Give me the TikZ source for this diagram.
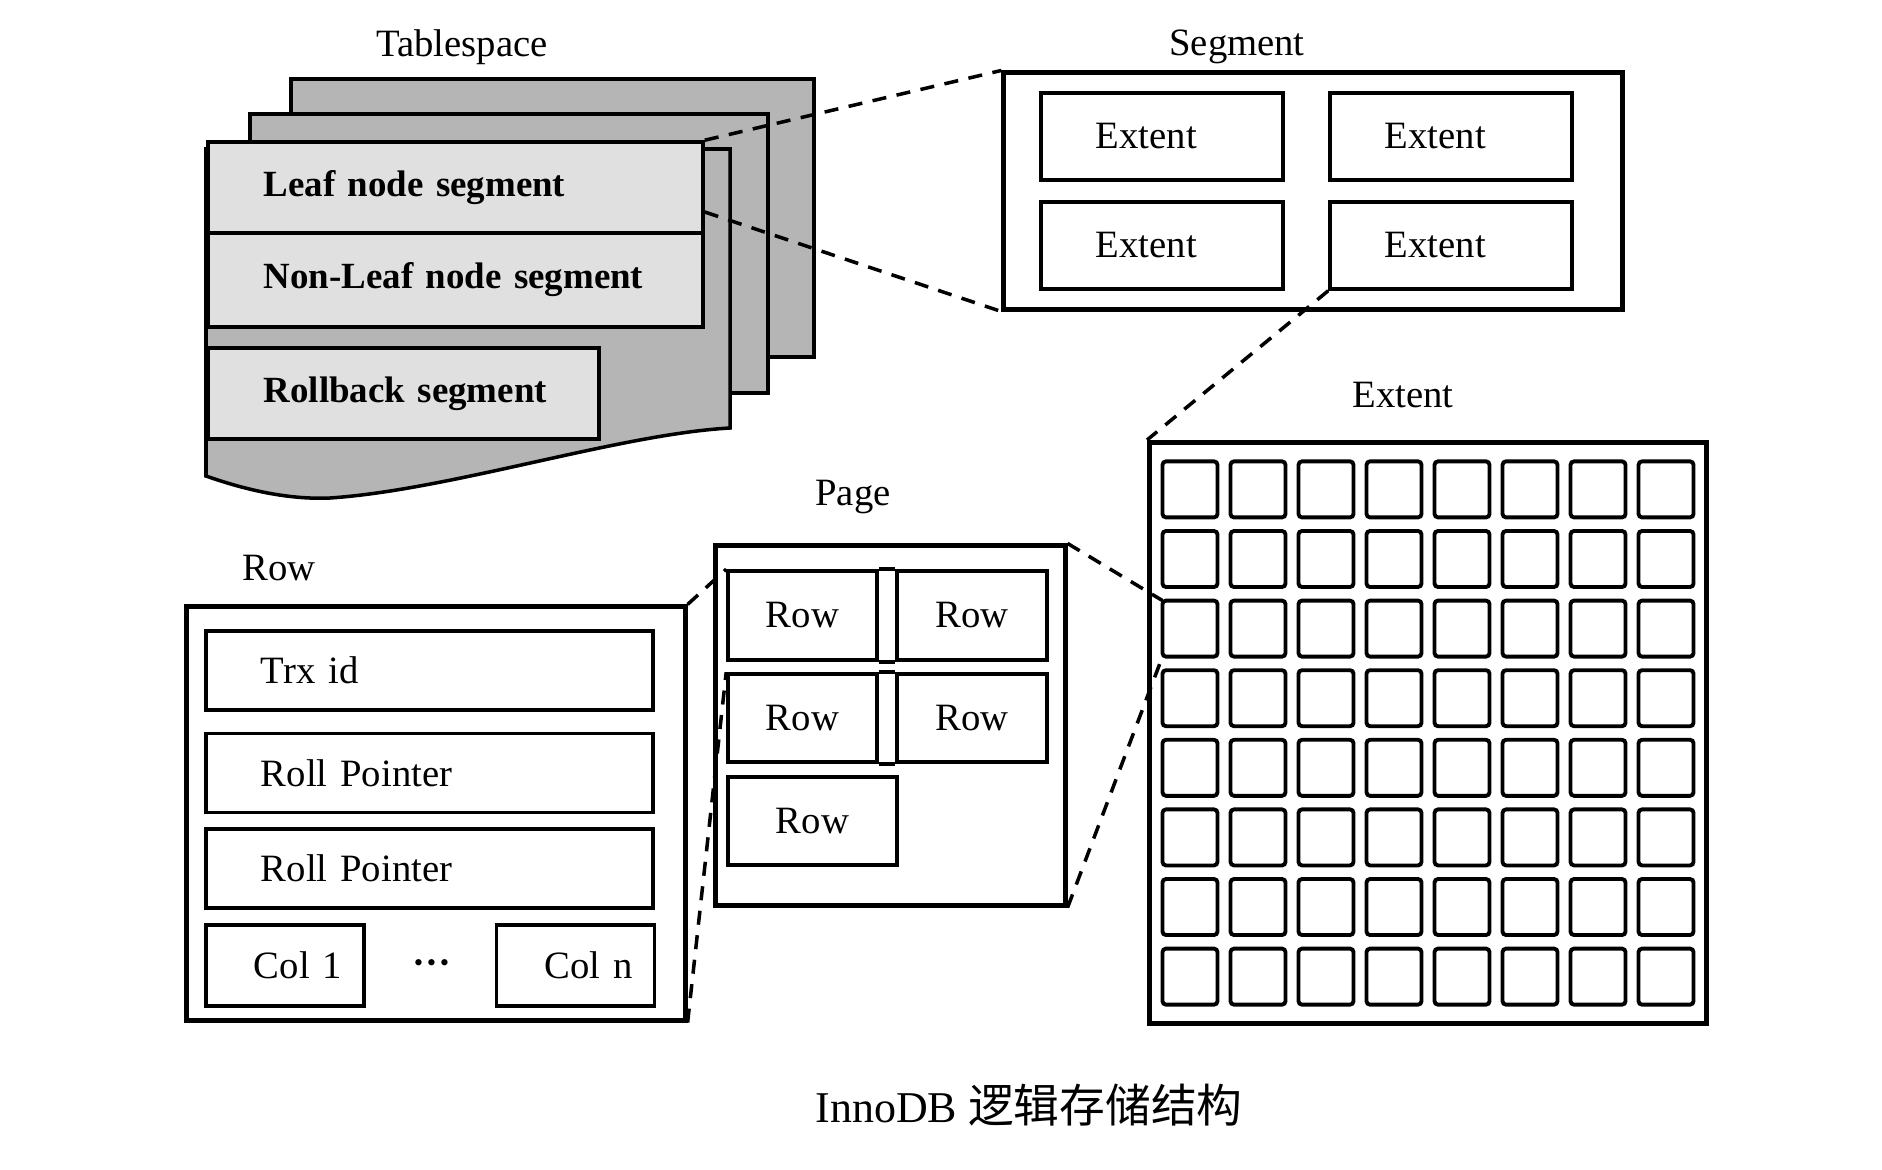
\documentclass[tikz,border=0pt]{standalone}
\usepackage{fontspec}
\setmainfont{Liberation Serif}
\newfontfamily\cjk{Noto Sans CJK SC}
\usetikzlibrary{matrix}
\definecolor{sheetgray}{gray}{0.71}
\definecolor{papergray}{gray}{0.88}

\begin{document}
\begin{tikzpicture}[x=0.01cm, y=-0.01cm,
            every node/.style={font=\fontsize{11}{13}\selectfont},
            sheet/.style={draw, line width=1pt, fill=sheetgray},
            seg/.style={draw, line width=1pt, fill=papergray, anchor=west, align=left,
                inner xsep=0.56cm, inner ysep=0pt, font=\fontsize{10.5}{12}\selectfont\bfseries},
            frame/.style={draw, line width=1.4pt, inner sep=0pt},
            box/.style={draw, line width=1pt, inner sep=0pt},
            extbox/.style={box, align=left, inner xsep=0.55cm, text width=1.32cm, minimum height=0.87cm},
            field/.style={box, align=left, inner xsep=0.55cm, text width=3.37cm, minimum height=0.79cm},
            col/.style={box, align=right, inner xsep=0.22cm, text width=1.14cm, minimum height=0.81cm},
            cell/.style={draw, line width=1.1pt, rounded corners=1pt, inner sep=0pt, outer sep=0pt,
                minimum width=0.55cm, minimum height=0.56cm},
            zoom/.style={line width=1pt, dash pattern=on 4pt off 3pt}]
    \useasboundingbox (0,0) rectangle (1882,1170);

    % tablespace
    \draw[sheet] (291,79) rectangle (814,357);
    \draw[sheet] (250,114) rectangle (768,393);
    \draw[sheet] (206,149) -- (730,149) -- (730,428)
        .. controls (620,434) and (450,490) .. (330,498)
        .. controls (285,500) and (240,488) .. (206,476) -- cycle;
    \node[seg, text width=3.83cm, minimum height=0.91cm] (leaf) at (206,187.5) {\mbox{Leaf node segment}};
    \node[seg, text width=3.83cm, minimum height=0.94cm] (nonleaf) at (206,280) {\mbox{Non-Leaf node segment}};
    \node[seg, text width=2.79cm, minimum height=0.91cm] (rollback) at (206,393.5) {\mbox{Rollback segment}};
    \node (tslabel) at (462,47) {Tablespace};

    % segment
    \node[frame, minimum width=6.18cm, minimum height=2.36cm] (segment) at (1313,191) {};
    \node (seglabel) at (1237,47) {Segment};
    \node[extbox] (sx11) at (1162,136.5) {Extent};
    \node[extbox] (sx12) at (1451,136.5) {Extent};
    \node[extbox] (sx21) at (1162,245.5) {Extent};
    \node[extbox] (sx22) at (1451,245.5) {Extent};

    % extent
    \matrix (pages) [matrix of nodes, nodes in empty cells, nodes={cell},
        draw, line width=1.4pt, inner xsep=0.11cm, inner ysep=0.17cm,
        column sep=0.091cm, row sep=0.097cm] at (1428,733)
    {
        &&&&&&& \\
        &&&&&&& \\
        &&&&&&& \\
        &&&&&&& \\
        &&&&&&& \\
        &&&&&&& \\
        &&&&&&& \\
        &&&&&&& \\
    };
    \node (extlabel) at (1403,395) {Extent};

    % page
    \node[frame, minimum width=3.49cm, minimum height=3.59cm] (page) at (890.5,725.5) {};
    \node (pagelabel) at (853,497) {Page};
    \node[box, minimum width=1.49cm, minimum height=0.89cm] (r11) at (802.5,615.5) {Row};
    \node[box, minimum width=1.50cm, minimum height=0.89cm] (r12) at (972,615.5) {Row};
    \node[box, minimum width=1.49cm, minimum height=0.88cm] (r21) at (802.5,718) {Row};
    \node[box, minimum width=1.50cm, minimum height=0.88cm] (r22) at (972,718) {Row};
    \node[box, minimum width=1.69cm, minimum height=0.88cm] (r31) at (812.5,821) {Row};
    \draw[line width=1pt] (r11.north east) -- (r12.north west) (r11.south east) -- (r12.south west);
    \draw[line width=1pt] (r21.north east) -- (r22.north west) (r21.south east) -- (r22.south west);

    % row
    \node[frame, minimum width=4.98cm, minimum height=4.13cm] (row) at (436,813.5) {};
    \node (rowlabel) at (279,568) {Row};
    \node[field] (trx) at (429.5,670.5) {Trx id};
    \node[field] (rp1) at (429.5,773) {Roll Pointer};
    \node[field] (rp2) at (429.5,868.5) {Roll Pointer};
    \node[col] (col1) at (285,965.5) {Col 1};
    \node[col] (coln) at (575.5,965.5) {Col n};
    \node (dots) at (432,968) {\textbf{···}};

    % zoom lines
    \draw[zoom] (leaf.north east) -- (segment.north west);
    \draw[zoom] ([yshift=-0.245cm]leaf.east) -- (segment.south west);
    \draw[zoom] (sx22.south west) -- (pages.north west);
    \draw[zoom] (page.north east) -- (pages-3-1.north west);
    \draw[zoom] (page.south east) -- (pages-3-1.south west);
    \draw[zoom] (row.north east) -- (r11.north west);
    \draw[zoom] (row.south east) -- (r21.north west);

    \node (caption) at (1029,1105) {\fontsize{12.5}{15}\selectfont InnoDB \cjk\fontsize{13}{15}\selectfont 逻辑存储结构};
\end{tikzpicture}
\end{document}
